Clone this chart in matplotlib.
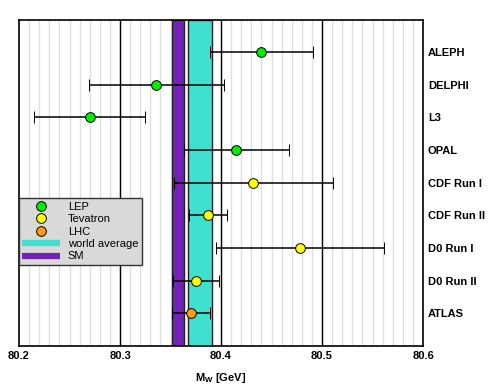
import matplotlib

matplotlib.use("Agg")
import matplotlib.pyplot as plt
from matplotlib.lines import Line2D
import numpy as np

plt.rcParams["font.family"] = ["Liberation Sans", "DejaVu Sans"]

# measurements, top to bottom
experiments = ["ALEPH", "DELPHI", "L3", "OPAL", "CDF Run I", "CDF Run II",
               "D0 Run I", "D0 Run II", "ATLAS"]
mass = [80.440, 80.336, 80.270, 80.415, 80.432, 80.387, 80.478, 80.375, 80.370]
error = [0.051, 0.067, 0.055, 0.052, 0.079, 0.019, 0.083, 0.023, 0.019]
collider = ["LEP", "LEP", "LEP", "LEP", "Tevatron", "Tevatron", "Tevatron",
            "Tevatron", "LHC"]

world_avg = 80.379
world_err = 0.012
sm_pred = 80.357
sm_err = 0.006

colors = {"LEP": "#00EE00", "Tevatron": "#FFFF00", "LHC": "#FF9A14"}
band_colors = {"world": "#40E0D0", "sm": "#7222B5"}

fig = plt.figure(figsize=(4.98, 3.85), dpi=100)
ax = fig.add_axes([0.0382, 0.102, 0.8112, 0.847])

ax.set_xlim(80.2, 80.6)
ax.set_ylim(0, len(experiments) + 1)

# grid
for x in np.arange(80.21, 80.6, 0.01):
    ax.axvline(x, color="#e0e0e0", lw=1.0, zorder=0)
for x in (80.3, 80.4, 80.5):
    ax.axvline(x, color="black", lw=1.0, zorder=1)

ax.axvspan(sm_pred - sm_err, sm_pred + sm_err, facecolor=band_colors["sm"],
           edgecolor="#222222", lw=1.0, zorder=2)
ax.axvspan(world_avg - world_err, world_avg + world_err,
           facecolor=band_colors["world"], edgecolor="#222222", lw=1.0, zorder=2)

ypos = np.arange(len(experiments), 0, -1)
for y, m, e, c in zip(ypos, mass, error, collider):
    ax.errorbar(m, y, xerr=e, fmt="o", color="black", ecolor="black",
                mfc=colors[c], mec="black", mew=0.7, ms=7, elinewidth=1.1,
                capsize=4.5, capthick=1.1, zorder=5)

ax.set_yticks(ypos)
ax.set_yticklabels(experiments, fontsize=8, fontweight="bold")
ax.yaxis.tick_right()
ax.tick_params(axis="y", length=0, pad=3.5)
ax.set_xticks([80.2, 80.3, 80.4, 80.5, 80.6])
ax.set_xticklabels(["80.2", "80.3", "80.4", "80.5", "80.6"], fontsize=8,
                   fontweight="bold")
ax.tick_params(axis="x", length=0, pad=4)
ax.set_xlabel(r"M$_\mathregular{W}$ [GeV]", fontsize=8, fontweight="bold",
              labelpad=7)
for sp in ax.spines.values():
    sp.set_linewidth(1.2)
    sp.set_zorder(6)

handles = [
    Line2D([], [], ls="none", marker="o", ms=7, mfc=colors["LEP"], mec="black", mew=0.7),
    Line2D([], [], ls="none", marker="o", ms=7, mfc=colors["Tevatron"], mec="black", mew=0.7),
    Line2D([], [], ls="none", marker="o", ms=7, mfc=colors["LHC"], mec="black", mew=0.7),
    Line2D([], [], color=band_colors["world"], lw=4.5, solid_capstyle="butt"),
    Line2D([], [], color=band_colors["sm"], lw=4.5, solid_capstyle="butt"),
]
labels = ["LEP", "Tevatron", "LHC", "world average", "SM"]
leg = ax.legend(handles, labels, loc="upper left", bbox_to_anchor=(0.0, 0.452),
                fontsize=8, frameon=True, fancybox=False, framealpha=1,
                facecolor="#D9D9D9", edgecolor="#333333", borderpad=0.3,
                labelspacing=0.22, handlelength=3.4, handletextpad=0.7,
                borderaxespad=0)
leg.get_frame().set_linewidth(1.0)
leg.set_zorder(10)

fig.savefig("out.png", dpi=100)
